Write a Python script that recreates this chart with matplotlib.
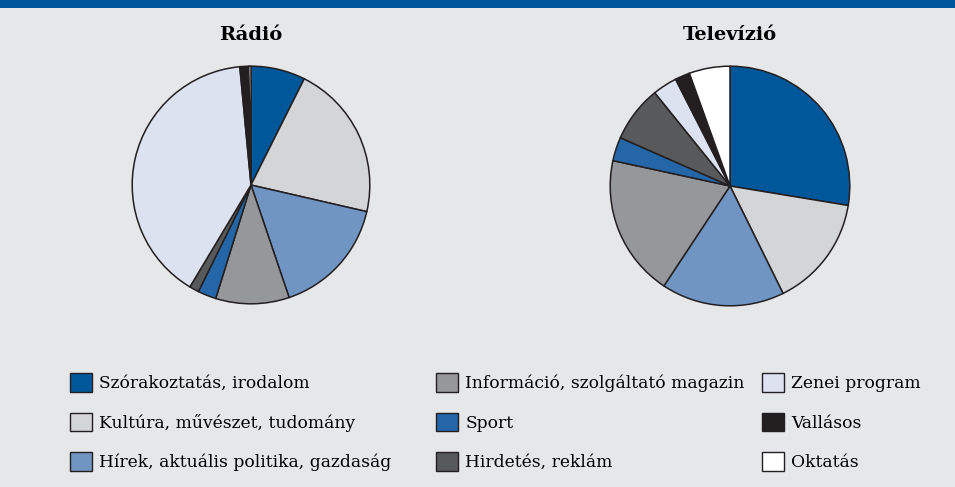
import matplotlib
matplotlib.use("Agg")
import matplotlib.pyplot as plt
from matplotlib.patches import Patch, Rectangle

# Share of programme types (%)
categories = ["Szórakoztatás, irodalom", "Kultúra, művészet, tudomány",
              "Hírek, aktuális politika, gazdaság", "Információ, szolgáltató magazin",
              "Sport", "Hirdetés, reklám", "Zenei program", "Vallásos", "Oktatás"]
radio = [7.4, 21.2, 16.2, 10.0, 2.5, 1.3, 39.9, 1.2, 0.3]
tv = [27.6, 15.1, 16.6, 19.1, 3.2, 7.6, 3.3, 2.0, 5.5]
colors = ["#00579a", "#d4d5d7", "#7195c3", "#96979a", "#2466a8",
          "#58595b", "#dde2f0", "#231f20", "#ffffff"]

W, H = 955, 487
bg = "#e6e7e9"
plt.rcParams['font.family'] = ['DejaVu Serif']

fig = plt.figure(figsize=(W / 100, H / 100), dpi=100, facecolor=bg)

# top blue bar
fig.patches.append(Rectangle((0, 1 - 8 / H), 1, 8 / H, transform=fig.transFigure,
                             facecolor="#00569a", edgecolor="none"))


def pie_axes(cx, cy, r):
    return fig.add_axes([(cx - r) / W, (H - cy - r) / H, 2 * r / W, 2 * r / H])


for vals, title, (cx, cy, r) in [(radio, "Rádió", (251, 185, 120)),
                                 (tv, "Televízió", (730, 186, 121))]:
    ax = pie_axes(cx, cy, r)
    ax.pie(vals, colors=colors, startangle=90, counterclock=False,
           wedgeprops=dict(edgecolor="#231f20", linewidth=1.1))
    ax.set_xlim(-1.01, 1.01)
    ax.set_ylim(-1.01, 1.01)
    ax.set_aspect("equal")
    ax.axis("off")
    fig.text(cx / W, 1 - 35 / H, title, ha="center", va="center",
             fontsize=14, fontweight="bold")

# legend in three columns
fs = 12.3
handles = [Patch(facecolor=c, edgecolor="#231f20", linewidth=1.0) for c in colors]
for i, x0 in enumerate([70, 436, 762]):
    leg = fig.legend(handles[i * 3:i * 3 + 3], categories[i * 3:i * 3 + 3],
                     loc="upper left", bbox_to_anchor=(x0 / W, 1 - 373 / H),
                     frameon=False, fontsize=fs, borderpad=0, borderaxespad=0,
                     handlelength=1.3, handleheight=1.3, handletextpad=0.42,
                     labelspacing=1.2)

fig.savefig("out.png", dpi=100, facecolor=bg)
